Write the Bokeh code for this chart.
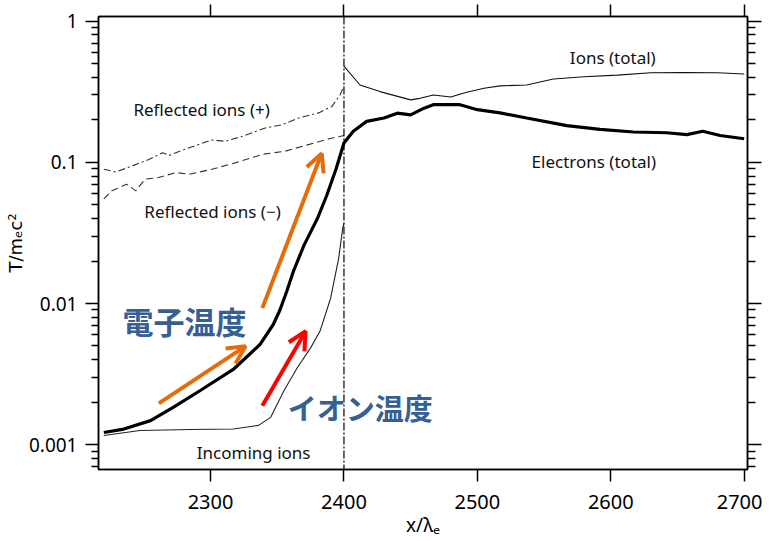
import math
from bokeh.plotting import figure
from bokeh.models import (Range1d, LinearAxis, LogAxis, FixedTicker, CustomJSTickFormatter,
                          Span, Arrow, OpenHead, Label)
from bokeh.embed import file_html
from bokeh.resources import INLINE

# ---------------- data ----------------
x_ticks = [2300, 2400, 2500, 2600, 2700]
y_ticks = [0.001, 0.01, 0.1, 1]
y_minor = [m * 10.0 ** e for e in (-4, -3, -2, -1) for m in range(2, 10)]

elec_x = [2220, 2235, 2255, 2272, 2292, 2317, 2337, 2347, 2352, 2357, 2362, 2370, 2380, 2387,
          2394, 2400, 2407, 2417, 2430, 2440, 2450, 2460, 2467, 2475, 2487, 2500, 2517, 2537,
          2567, 2592, 2617, 2642, 2657, 2669, 2682, 2700]
elec_y = [0.00122, 0.00129, 0.00148, 0.00184, 0.00241, 0.00341, 0.00512, 0.0071, 0.0090, 0.0121,
          0.0168, 0.0258, 0.0398, 0.058, 0.0893, 0.137, 0.166, 0.195, 0.206, 0.223, 0.217, 0.242,
          0.256, 0.256, 0.256, 0.236, 0.224, 0.206, 0.182, 0.171, 0.164, 0.162, 0.157, 0.166,
          0.155, 0.147]

ion_x = [2400, 2412, 2427, 2450, 2457, 2467, 2480, 2492, 2505, 2517, 2537, 2557, 2580, 2605,
         2630, 2655, 2680, 2700]
ion_y = [0.48, 0.353, 0.317, 0.277, 0.284, 0.300, 0.290, 0.314, 0.335, 0.348, 0.353, 0.389,
         0.404, 0.415, 0.431, 0.433, 0.431, 0.422]

inc_x = [2220, 2247, 2285, 2317, 2336, 2345, 2355, 2365, 2375, 2382, 2390, 2396, 2399, 2400]
inc_y = [0.00116, 0.00126, 0.00128, 0.00129, 0.00137, 0.00156, 0.00241, 0.00351, 0.00485,
         0.00635, 0.0109, 0.0208, 0.0338, 0.037]

refp_x = [2220, 2229, 2241, 2254, 2264, 2269, 2284, 2301, 2311, 2324, 2341, 2354, 2366, 2381,
          2391, 2397, 2400]
refp_y = [0.0893, 0.0855, 0.094, 0.105, 0.117, 0.112, 0.127, 0.144, 0.141, 0.153, 0.175, 0.185,
          0.206, 0.224, 0.249, 0.30, 0.348]

refm_x = [2220, 2226, 2237, 2244, 2251, 2261, 2274, 2284, 2301, 2319, 2339, 2356, 2374, 2389, 2400]
refm_y = [0.055, 0.0628, 0.070, 0.0628, 0.076, 0.078, 0.0847, 0.0824, 0.0893, 0.0995, 0.114,
          0.120, 0.134, 0.147, 0.155]

shock_x = 2400

# annotation texts and anchor points (data coordinates)
text_labels = ["Ions (total)", "Electrons (total)", "Reflected ions (+)", "Reflected ions (\u2212)",
               "Incoming ions"]
text_x = [2601.5, 2587.3, 2293.3, 2301.5, 2332.3]
text_y = [0.556, 0.1017, 0.2358, 0.0446, 0.000887]

jp_labels = ["電子温度", "イオン温度"]
jp_x = [2280.5, 2412.2]
jp_y = [0.00763, 0.001854]
jp_sizes = ["31px", "29px"]

arrow_x0 = [2261.2, 2338.8, 2338.8]
arrow_y0 = [0.00196, 0.00927, 0.00189]
arrow_x1 = [2326.3, 2383.3, 2371.3]
arrow_y1 = [0.00499, 0.1157, 0.00636]
arrow_colors = ["#E46C0A", "#E46C0A", "#FF0000"]

# ---------------- figure ----------------
TICK_FONT = "Noto Sans"
p = figure(width=762, height=540, y_axis_type="log",
           x_range=Range1d(2216, 2702.5), y_range=Range1d(0.000667, 1.079),
           output_backend="svg", toolbar_location=None,
           min_border_left=98, min_border_right=15, min_border_top=16, min_border_bottom=66)
p.xgrid.visible = False
p.ygrid.visible = False
p.outline_line_color = "black"
p.outline_line_width = 1.5
p.background_fill_color = "white"
p.border_fill_color = "white"

xa = p.xaxis[0]
xa.ticker = FixedTicker(ticks=x_ticks, minor_ticks=[])
xa.major_tick_out = 12
xa.major_tick_in = 0
xa.minor_tick_out = 0
xa.minor_tick_in = 0
xa.major_tick_line_width = 1.5
xa.axis_line_width = 1.5
xa.major_label_standoff = 13
xa.major_label_text_font = TICK_FONT
xa.major_label_text_font_size = "20px"
xa.major_label_text_color = "black"
xa.axis_label = "x/\u03bb\u2091"
xa.axis_label_standoff = 0
xa.axis_label_text_font = TICK_FONT
xa.axis_label_text_font_style = "normal"
xa.axis_label_text_font_size = "19px"
xa.axis_label_text_color = "black"

fmt = CustomJSTickFormatter(code="return String(parseFloat(tick.toPrecision(2)));")
ya = p.yaxis[0]
ya.ticker = FixedTicker(ticks=y_ticks, minor_ticks=y_minor)
ya.formatter = fmt
ya.major_tick_out = 13
ya.major_tick_in = 0
ya.minor_tick_out = 7
ya.minor_tick_in = 0
ya.major_tick_line_width = 1.5
ya.minor_tick_line_width = 1.5
ya.axis_line_width = 1.5
ya.major_label_standoff = 8
ya.major_label_text_font = TICK_FONT
ya.major_label_text_font_size = "19px"
ya.major_label_text_color = "black"
ya.axis_label = "T/m\u2091c\u00b2"
ya.axis_label_standoff = 0
ya.axis_label_text_font = "DejaVu Sans"
ya.axis_label_text_font_style = "normal"
ya.axis_label_text_font_size = "18px"
ya.axis_label_text_color = "black"

blank = CustomJSTickFormatter(code="return '';")
ra = LogAxis(ticker=FixedTicker(ticks=y_ticks, minor_ticks=y_minor), formatter=blank,
             major_label_text_font_size="1px", major_label_standoff=0,
             major_tick_out=14, major_tick_in=0, minor_tick_out=8, minor_tick_in=0,
             major_tick_line_width=1.5, minor_tick_line_width=1.5, axis_line_width=1.5)
p.add_layout(ra, "right")

ta = LinearAxis(ticker=FixedTicker(ticks=x_ticks, minor_ticks=[]), formatter=blank,
                major_label_text_font_size="1px", major_label_standoff=0,
                major_tick_out=12, major_tick_in=0, minor_tick_out=0, minor_tick_in=0,
                major_tick_line_width=1.5, axis_line_width=1.5)
p.add_layout(ta, "above")

# ---------------- curves ----------------
p.line(refp_x, refp_y, line_color="#333333", line_width=1.1, line_dash="7 3 2 3")
p.line(refm_x, refm_y, line_color="#333333", line_width=1.1, line_dash="7 4")
p.line(inc_x, inc_y, line_color="#222222", line_width=1.1)
p.line(ion_x, ion_y, line_color="#111111", line_width=1.1)
p.line(elec_x, elec_y, line_color="black", line_width=3.2)

p.add_layout(Span(location=shock_x, dimension="height", line_color="black",
                  line_width=1.2, line_dash="8 2 2 2"))

# ---------------- arrows ----------------
for x0, y0, x1, y1, c in zip(arrow_x0, arrow_y0, arrow_x1, arrow_y1, arrow_colors):
    p.add_layout(Arrow(x_start=x0, y_start=y0, x_end=x1, y_end=y1, line_color=c, line_width=4,
                       end=OpenHead(size=18, line_color=c, line_width=4)))

# ---------------- labels ----------------
for t, x, y in zip(text_labels, text_x, text_y):
    p.add_layout(Label(x=x, y=y, text=t, text_align="center", text_baseline="middle",
                       text_font="Noto Sans", text_font_size="17px", text_color="#111111"))

for t, x, y, s in zip(jp_labels, jp_x, jp_y, jp_sizes):
    p.add_layout(Label(x=x, y=y, text=t, text_align="center", text_baseline="middle",
                       text_font="Noto Sans CJK JP", text_font_style="bold",
                       text_font_size=s, text_color="#376092"))

open("out.html", "w").write(file_html(p, INLINE))
